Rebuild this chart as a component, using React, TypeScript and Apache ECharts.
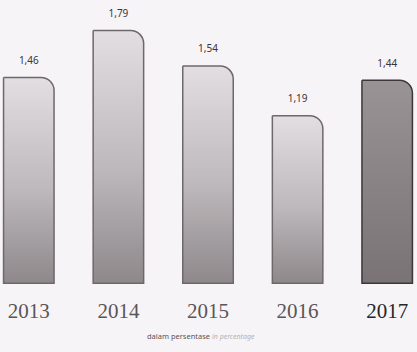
import React, { useEffect, useRef } from "react";
import * as echarts from "echarts";

const years = ["2013", "2014", "2015", "2016", "2017"];
const values = [1.46, 1.79, 1.54, 1.19, 1.44];
const captionMain = "dalam persentase";
const captionEn = "in percentage";

const lightBar = new echarts.graphic.LinearGradient(0, 0, 0, 1, [
  { offset: 0, color: "#e2dee1" },
  { offset: 0.55, color: "#bdb8bb" },
  { offset: 1, color: "#8e888b" },
]);
const darkBar = new echarts.graphic.LinearGradient(0, 0, 0, 1, [
  { offset: 0, color: "#9a9396" },
  { offset: 1, color: "#7a7376" },
]);

export default function App() {
  const ref = useRef<HTMLDivElement>(null);

  useEffect(() => {
    if (!ref.current) return;
    const chart = echarts.init(ref.current, null, { renderer: "svg" });
    const last = years.length - 1;
    chart.setOption({
      animation: false,
      backgroundColor: "#f6f4f6",
      grid: { left: 0, right: 0, top: 0, bottom: 68 },
      xAxis: {
        type: "category",
        data: years,
        axisLine: { show: false },
        axisTick: { show: false },
        axisLabel: {
          interval: 0,
          margin: 16,
          fontFamily: "Liberation Serif",
          fontSize: 21,
          color: "#5a5556",
          formatter: (v: string, i: number) => (i === last ? `{d|${v}}` : v),
          rich: {
            d: {
              fontFamily: "Liberation Serif",
              fontSize: 21,
              color: "#2a2627",
            },
          },
        },
      },
      yAxis: {
        type: "value",
        min: 0,
        max: 2,
        show: false,
        splitLine: { show: false },
      },
      series: [
        {
          type: "bar",
          barWidth: 52,
          data: values.map((v, i) => ({
            value: v,
            itemStyle: {
              color: i === last ? darkBar : lightBar,
              borderColor: i === last ? "#3e3739" : "#6f686b",
              borderWidth: 1.5,
              borderRadius: [0, 13, 0, 0],
            },
          })),
          label: {
            show: true,
            position: "top",
            distance: 12,
            fontFamily: "Noto Sans",
            fontSize: 10,
            color: "#3a3537",
            formatter: (p: any) => p.value.toFixed(2).replace(".", ","),
          },
        },
      ],
      graphic: [
        {
          type: "text",
          left: 163,
          top: 332,
          style: {
            text: captionMain,
            fontFamily: "Noto Sans",
            fontSize: 7.5,
            fill: "#5a5557",
          },
        },
        {
          type: "text",
          left: 228,
          top: 333,
          style: {
            text: captionEn,
            fontFamily: "Noto Sans",
            fontStyle: "italic",
            fontSize: 7,
            fill: "#b5b0b3",
          },
        },
      ],
    });
    return () => chart.dispose();
  }, []);

  return (
    <div
      style={{
        position: "absolute",
        left: 0,
        top: 0,
        width: 417,
        height: 352,
        overflow: "hidden",
      }}
    >
      <div
        ref={ref}
        style={{ position: "absolute", left: -16, top: 0, width: 448, height: 352 }}
      />
    </div>
  );
}
